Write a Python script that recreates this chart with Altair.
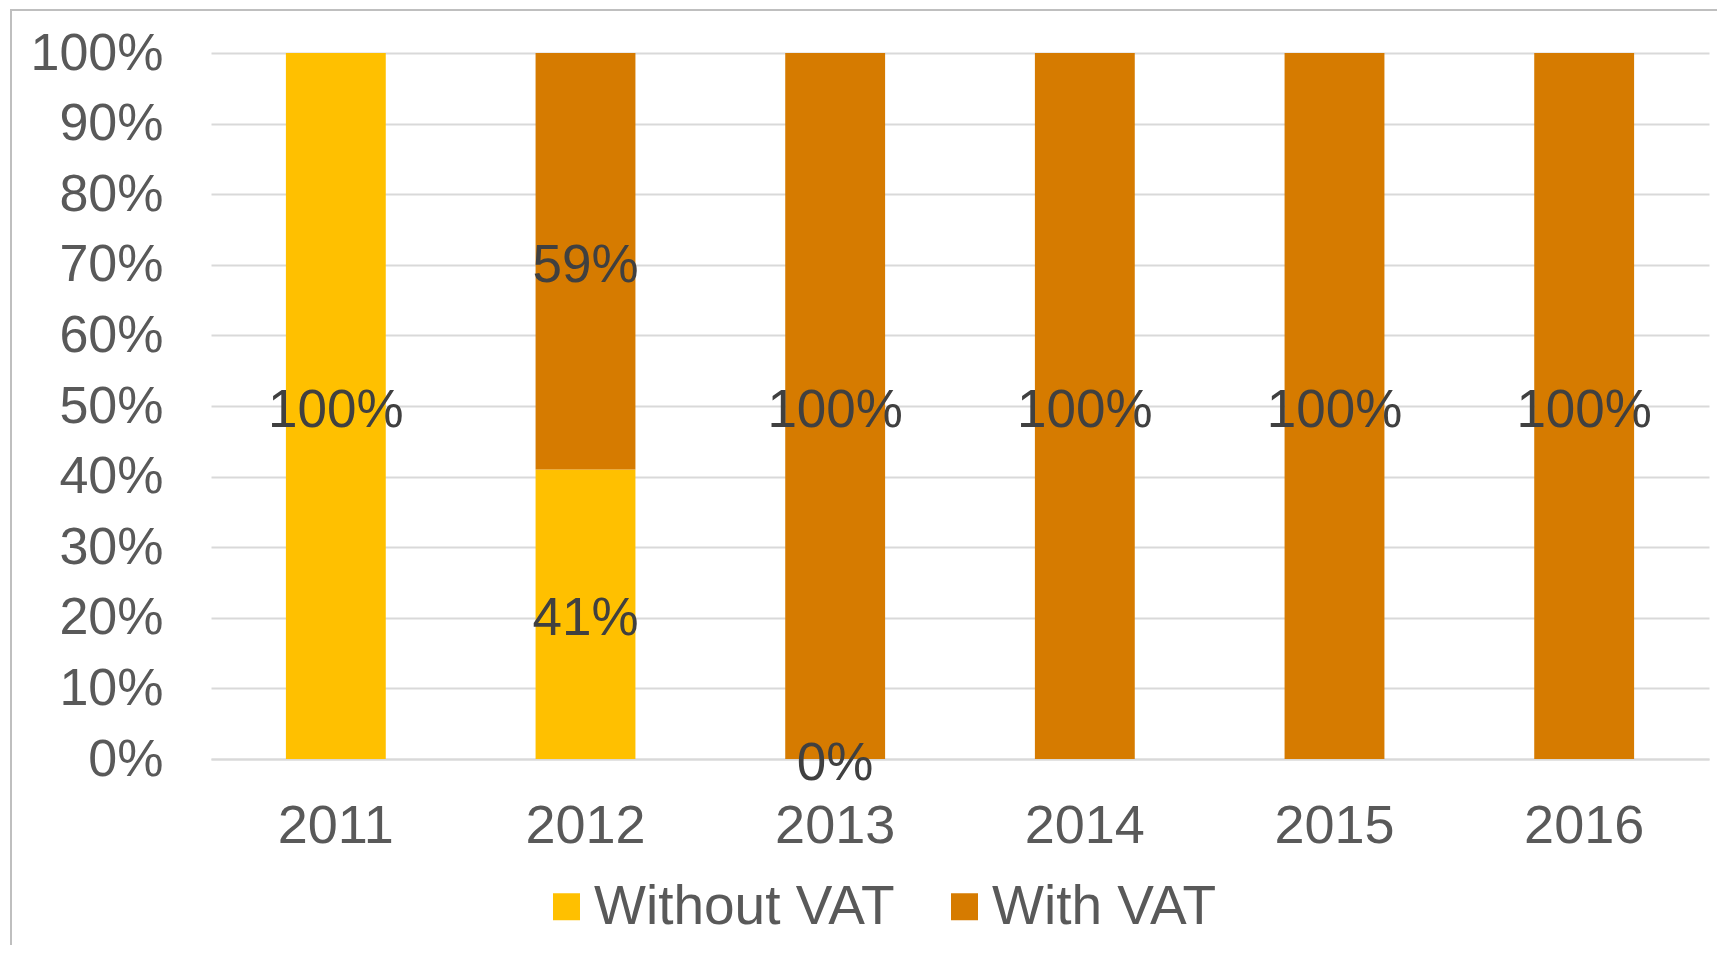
import altair as alt
import pandas as pd

years = ["2011", "2012", "2013", "2014", "2015", "2016"]
series = ["Without VAT", "With VAT"]
without_vat = [1.00, 0.41, 0.00, None, None, None]
with_vat = [None, 0.59, 1.00, 1.00, 1.00, 1.00]
colors = ["#FFC000", "#D67B00"]
y_ticks = [0.0, 0.1, 0.2, 0.3, 0.4, 0.5, 0.6, 0.7, 0.8, 0.9, 1.0]

FONT = "Liberation Sans"

rows = []
for i, yr in enumerate(years):
    for s_idx, vals in enumerate([without_vat, with_vat]):
        v = vals[i]
        if v is None:
            continue
        rows.append({"year": yr, "series": series[s_idx], "ord": s_idx, "value": v})
df = pd.DataFrame(rows)

base = alt.Chart(df).transform_stack(
    stack="value",
    groupby=["year"],
    as_=["v0", "v1"],
    sort=[alt.SortField("ord", "ascending")],
).transform_calculate(mid="(datum.v0 + datum.v1) / 2")

xenc = alt.X(
    "year:N",
    sort=years,
    scale=alt.Scale(paddingInner=0.6, paddingOuter=0.3),
    axis=alt.Axis(
        title=None,
        labelAngle=0,
        labelFontSize=54,
        labelColor="#595959",
        labelFont=FONT,
        labelPadding=40,
        ticks=False,
        domain=True,
        domainColor="#D9D9D9",
        domainWidth=2,
        grid=False,
    ),
)

bars = base.mark_bar().encode(
    x=xenc,
    y=alt.Y(
        "v0:Q",
        scale=alt.Scale(domain=[0, 1], nice=False),
        axis=alt.Axis(
            title=None,
            values=y_ticks,
            format=".0%",
            labelFontSize=52,
            labelColor="#595959",
            labelFont=FONT,
            labelPadding=48,
            ticks=False,
            domain=False,
            grid=True,
            gridColor="#D9D9D9",
            gridWidth=2,
        ),
    ),
    y2="v1:Q",
    color=alt.Color(
        "series:N",
        scale=alt.Scale(domain=series, range=colors),
        legend=alt.Legend(
            title=None,
            orient="none",
            direction="horizontal",
            legendX=328,
            legendY=826,
            symbolType="square",
            symbolSize=729,
            symbolStrokeWidth=0,
            labelFontSize=55,
            labelColor="#595959",
            labelFont=FONT,
            labelOffset=0,
            labelLimit=600,
            columnPadding=42,
        ),
    ),
)

labels = base.mark_text(
    fontSize=53, color="#404040", font=FONT, baseline="middle", align="center", dy=5
).encode(
    x=alt.X("year:N", sort=years),
    y=alt.Y("mid:Q"),
    text=alt.Text("value:Q", format=".0%"),
)

border = alt.Chart(pd.DataFrame({"a": [0]})).mark_rect(
    fill="transparent", stroke="#BFBFBF", strokeWidth=2
).encode(
    x=alt.value(-200),
    y=alt.value(-43),
    x2=alt.value(3000),
    y2=alt.value(3000),
)

chart = alt.layer(bars, labels, border).properties(
    width=1498,
    height=706,
    autosize=alt.AutoSizeParams(type="none"),
    padding={"left": 203, "top": 45, "right": 8, "bottom": 186},
).configure_view(stroke=None)

chart.save("out.html", embed_options={"renderer": "svg", "actions": False})
